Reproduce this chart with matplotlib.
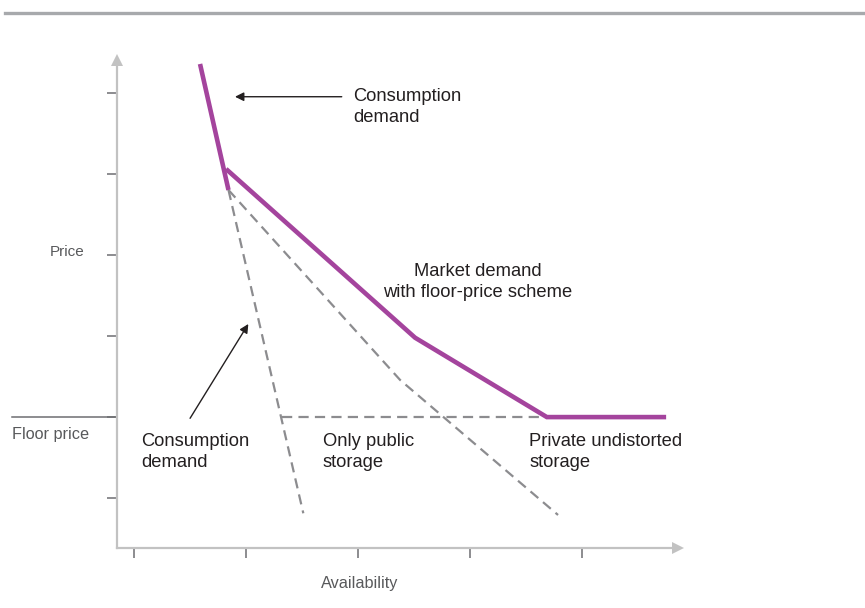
import matplotlib
matplotlib.use("Agg")
import matplotlib.pyplot as plt
from matplotlib.lines import Line2D

plt.rcParams['font.family'] = ['Liberation Sans', 'DejaVu Sans']

# ---- data (schematic units: x ticks at 1..5, y ticks at 1..6) ----
x_ticks = [1, 2, 3, 4, 5]
y_ticks = [1, 2, 3, 4, 5, 6]
floor_price = 2.0

consumption_x = [1.592, 1.846]
consumption_y = [6.365, 4.807]

market_x = [1.824, 3.512, 4.688, 5.753]
market_y = [5.067, 2.981, floor_price, floor_price]

cons_dash_x = [1.846, 2.514]
cons_dash_y = [4.807, 0.811]

public_dash_x = [1.846, 3.378, 4.788]
public_dash_y = [4.807, 2.459, 0.790]

floor_dash_x = [2.321, 4.688]
floor_dash_y = [floor_price, floor_price]

xlim = (0.848, 5.859)
ylim = (0.388, 6.414)

PURPLE = "#a4449d"
DASH = "#8c8c8f"
AXIS = "#c2c2c2"
TICK = "#6d6e71"
DARK = "#231f20"
GRAY_TXT = "#58595b"

W, H = 865, 608
fig = plt.figure(figsize=(W / 100, H / 100), dpi=100)
ox, oy = 116.7, 547.5
tx, ty = 678, 60
ax = fig.add_axes([ox / W, (H - oy) / H, (tx - ox) / W, (oy - ty) / H])
ax.set_xlim(*xlim)
ax.set_ylim(*ylim)
for s in ['top', 'right']:
    ax.spines[s].set_visible(False)
for s in ['left', 'bottom']:
    ax.spines[s].set_color(AXIS)
    ax.spines[s].set_linewidth(1.6)
ax.set_xticks(x_ticks)
ax.set_yticks(y_ticks)
ax.set_xticklabels([])
ax.set_yticklabels([])
ax.tick_params(axis='both', direction='out', length=7, width=1.1, color=TICK)
ax.patch.set_alpha(0)

# axis arrow heads
ax.plot([xlim[1]], [ylim[0]], marker='>', color=AXIS, markersize=8, clip_on=False,
        markeredgewidth=0)
ax.plot([xlim[0]], [ylim[1]], marker='^', color=AXIS, markersize=8, clip_on=False,
        markeredgewidth=0)

dash_kw = dict(color=DASH, lw=1.6, dashes=(4.6, 2.8), clip_on=False)
ax.plot(cons_dash_x, cons_dash_y, **dash_kw)
ax.plot(public_dash_x, public_dash_y, **dash_kw)
ax.plot(floor_dash_x, floor_dash_y, **dash_kw)

ax.plot(consumption_x, consumption_y, color=PURPLE, lw=3.3, solid_capstyle='butt', clip_on=False)
ax.plot(market_x, market_y, color=PURPLE, lw=3.3, solid_capstyle='butt',
        solid_joinstyle='miter', clip_on=False)

# floor price line extending to the left of the axis
ax.plot([-0.086, xlim[0]], [floor_price, floor_price], color=TICK, lw=1.1, clip_on=False)

# annotations
fs = 13.2
ls = 1.28
ax.text(2.960, 5.833, "Consumption\ndemand", ha='left', va='center', fontsize=fs,
        color=DARK, linespacing=ls)
ax.annotate("", xy=(1.904, 5.960), xytext=(2.857, 5.960),
            arrowprops=dict(arrowstyle='-|>', color=DARK, lw=1.0, mutation_scale=13,
                            shrinkA=0, shrinkB=0))
ax.annotate("", xy=(2.023, 3.151), xytext=(1.503, 1.985),
            arrowprops=dict(arrowstyle='-|>', color=DARK, lw=1.0, mutation_scale=13,
                            shrinkA=0, shrinkB=0))
ax.text(4.074, 3.670, "Market demand\nwith floor-price scheme", ha='center', va='center',
        fontsize=fs, color=DARK, linespacing=ls, multialignment='center')
ax.text(1.063, 1.569, "Consumption\ndemand", ha='left', va='center', fontsize=fs,
        color=DARK, linespacing=ls)
ax.text(2.688, 1.569, "Only public\nstorage", ha='left', va='center', fontsize=fs,
        color=DARK, linespacing=ls)
ax.text(4.532, 1.569, "Private undistorted\nstorage", ha='left', va='center', fontsize=fs,
        color=DARK, linespacing=ls)

ax.text(0.404, 4.041, "Price", ha='center', va='center', fontsize=11, color=GRAY_TXT,
        clip_on=False)
ax.text(-0.086, 1.779, "Floor price", ha='left', va='center', fontsize=11.7, color=GRAY_TXT,
        clip_on=False)
ax.text(3.02, -0.063, "Availability", ha='center', va='center', fontsize=11.7,
        color=GRAY_TXT, clip_on=False)

# top rule
fig.add_artist(Line2D([5 / W, 1.0], [1 - 13 / H, 1 - 13 / H], color="#a7a9ac", lw=2.4,
                      transform=fig.transFigure))

fig.savefig("out.png", dpi=100)
